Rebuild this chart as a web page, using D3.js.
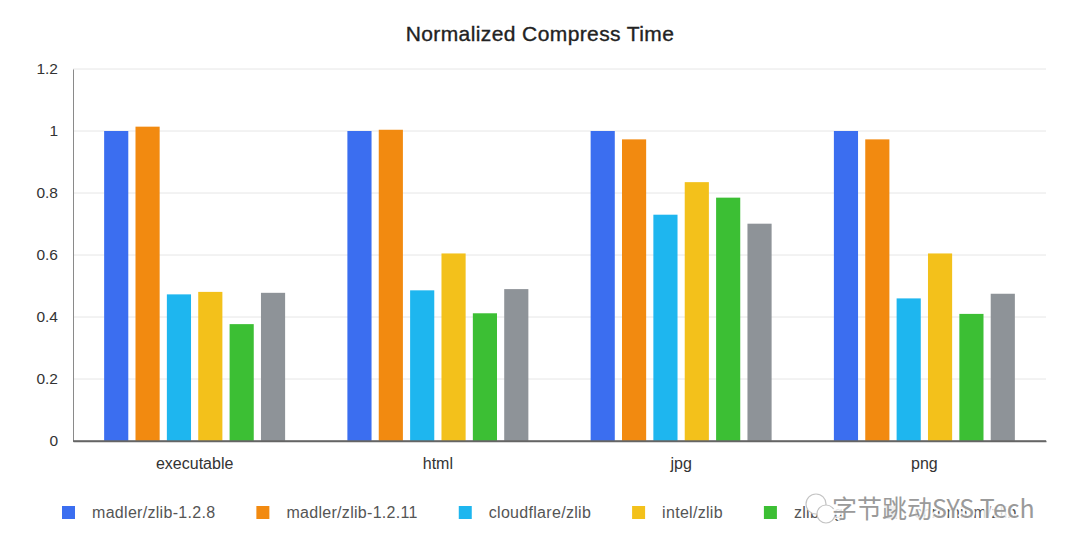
<!DOCTYPE html>
<html>
<head>
<meta charset="utf-8">
<script src="https://cdn.jsdelivr.net/npm/d3@7"></script>
<style>
  body { margin: 0; background: #fff; }
  svg { display: block; font-family: "Liberation Sans", Arial, sans-serif; }
</style>
</head>
<body>
<script>
// Data
// =================================
var categories = ["executable", "html", "jpg", "png"];
var seriesNames = ["madler/zlib-1.2.8", "madler/zlib-1.2.11", "cloudflare/zlib", "intel/zlib", "zlib-ng", "chromium/zlib"];
var seriesColors = ["#3b6ef0", "#f28a10", "#1eb6ef", "#f3c11b", "#3cbf34", "#8e9398"];
var madler128 = [1.0, 1.0, 1.0, 1.0];
var madler1211 = [1.014, 1.004, 0.973, 0.973];
var cloudflare = [0.473, 0.486, 0.730, 0.460];
var intel = [0.481, 0.605, 0.835, 0.605];
var zlibng = [0.377, 0.412, 0.785, 0.410];
var chromium = [0.478, 0.490, 0.701, 0.475];
var yTicks = [0, 0.2, 0.4, 0.6, 0.8, 1, 1.2];

var seriesValues = [madler128, madler1211, cloudflare, intel, zlibng, chromium];

// Chart setup
// =================================
var svgWidth = 1080;
var svgHeight = 552;
var margin = { top: 69, right: 34, bottom: 111, left: 73 };
var width = svgWidth - margin.left - margin.right;
var height = svgHeight - margin.top - margin.bottom;

var svg = d3.select("body").append("svg")
  .attr("width", svgWidth)
  .attr("height", svgHeight);

var chartGroup = svg.append("g")
  .attr("transform", `translate(${margin.left}, ${margin.top})`);

// Scales
// =================================
var x0 = d3.scaleBand()
  .domain(categories)
  .range([0, width])
  .paddingInner(0.256)
  .paddingOuter(0.128);

var x1 = d3.scaleBand()
  .domain(d3.range(seriesNames.length))
  .range([0, x0.bandwidth()])
  .paddingInner(0.23);

var yScale = d3.scaleLinear()
  .domain([0, 1.2])
  .range([height, 0]);

// Gridlines
chartGroup.append("g")
  .selectAll("line")
  .data(yTicks.filter(d => d > 0))
  .enter()
  .append("line")
  .attr("x1", 0)
  .attr("x2", width)
  .attr("y1", d => yScale(d))
  .attr("y2", d => yScale(d))
  .attr("stroke", "#e6e6e6")
  .attr("stroke-width", 1);

// Axes
// =================================
var leftAxis = d3.axisLeft(yScale)
  .tickValues(yTicks)
  .tickFormat(d3.format("~g"))
  .tickSize(0)
  .tickPadding(15);

var yAxisG = chartGroup.append("g").call(leftAxis);
yAxisG.select(".domain").attr("stroke", "#8a8a8a");
yAxisG.selectAll("text")
  .attr("font-size", "15.5px")
  .attr("fill", "#333")
  .attr("font-family", "Liberation Sans, Arial, sans-serif");

var bottomAxis = d3.axisBottom(x0).tickSize(0).tickPadding(17);
var xAxisG = chartGroup.append("g")
  .attr("transform", `translate(0, ${height})`)
  .call(bottomAxis);
xAxisG.select(".domain").attr("stroke", "#666").attr("stroke-width", 1.3);
xAxisG.selectAll("text")
  .attr("font-size", "16px")
  .attr("fill", "#333")
  .attr("font-family", "Liberation Sans, Arial, sans-serif");

// Bars
// =================================
var groups = chartGroup.append("g")
  .selectAll("g")
  .data(categories)
  .enter()
  .append("g")
  .attr("transform", d => `translate(${x0(d)}, 0)`);

groups.selectAll("rect")
  .data((c, ci) => seriesValues.map((vals, si) => ({ s: si, v: vals[ci] })))
  .enter()
  .append("rect")
  .attr("x", d => x1(d.s))
  .attr("width", x1.bandwidth())
  .attr("y", d => yScale(d.v))
  .attr("height", d => height - yScale(d.v))
  .attr("fill", d => seriesColors[d.s]);

// redraw baseline over bars
chartGroup.append("line")
  .attr("x1", 0).attr("x2", width)
  .attr("y1", height).attr("y2", height)
  .attr("stroke", "#666").attr("stroke-width", 1.3);

// Title
// =================================
svg.append("text")
  .attr("x", svgWidth / 2)
  .attr("y", 41)
  .attr("text-anchor", "middle")
  .attr("font-size", "21px")
  .attr("letter-spacing", "0.4px")
  .attr("fill", "#222")
  .attr("stroke", "#222")
  .attr("stroke-width", 0.35)
  .text("Normalized Compress Time");

// Legend
// =================================
var legend = svg.append("g").attr("transform", "translate(0, 512)");
var items = legend.selectAll("g")
  .data(seriesNames)
  .enter()
  .append("g");

items.append("rect")
  .attr("width", 13)
  .attr("height", 13)
  .attr("y", -6)
  .attr("fill", (d, i) => seriesColors[i]);

items.append("text")
  .attr("x", 30)
  .attr("y", 6)
  .attr("font-size", "16px")
  .attr("letter-spacing", "0.3px")
  .attr("fill", "#555")
  .text(d => d);

var xPos = 62;
items.each(function() {
  d3.select(this).attr("transform", `translate(${xPos}, 0)`);
  xPos += 30 + d3.select(this).select("text").node().getComputedTextLength() + 41;
});

// Watermark
// =================================
var wm = svg.append("g").attr("transform", "translate(808, 508)");
wm.append("circle").attr("cx", 8).attr("cy", -4).attr("r", 10)
  .attr("fill", "#fff").attr("stroke", "#c4c4c4").attr("stroke-width", 1.2);
wm.append("circle").attr("cx", 18).attr("cy", 6).attr("r", 9)
  .attr("fill", "#fff").attr("stroke", "#c4c4c4").attr("stroke-width", 1.2);
wm.append("text")
  .attr("x", 24)
  .attr("y", 10)
  .attr("font-size", "25px")
  .attr("font-family", "Noto Sans CJK SC, sans-serif")
  .attr("fill", "#9a9a9a")
  .attr("stroke", "#fff")
  .attr("stroke-width", 4)
  .attr("stroke-opacity", 0.85)
  .attr("paint-order", "stroke")
  .text("字节跳动SYS Tech");
</script>
</body>
</html>
